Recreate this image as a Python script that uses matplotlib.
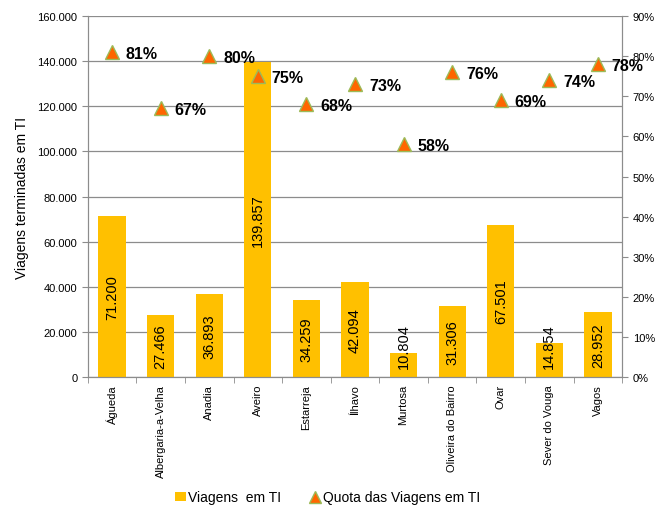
import numpy as np
import matplotlib
matplotlib.use("Agg")
import matplotlib.pyplot as plt
from matplotlib.lines import Line2D
from matplotlib.patches import Patch

plt.rcParams['font.family'] = ['Liberation Sans', 'DejaVu Sans']

# data
concelhos = ["Águeda", "Albergaria-a-Velha", "Anadia", "Aveiro", "Estarreja", "Ílhavo",
             "Murtosa", "Oliveira do Bairro", "Ovar", "Sever do Vouga", "Vagos"]
viagens = [71200, 27466, 36893, 139857, 34259, 42094, 10804, 31306, 67501, 14854, 28952]
quota = [81, 67, 80, 75, 68, 73, 58, 76, 69, 74, 78]

bar_color = '#FFC000'
tri_color = '#FF6600'
tri_edge = '#9BBB59'
grid_color = '#8C8C8C'

fig = plt.figure(figsize=(6.55, 5.06), dpi=100)
ax = fig.add_axes([0.134, 0.253, 0.816, 0.713])
x = np.arange(len(concelhos))

ax.bar(x, viagens, width=0.56, color=bar_color, zorder=2)
ax.set_xlim(-0.5, len(concelhos) - 0.5)
ax.set_ylim(0, 160000)
ax.set_yticks(np.arange(0, 160001, 20000))
ax.set_yticklabels(["0" if v == 0 else f"{v:,}".replace(",", ".") for v in range(0, 160001, 20000)],
                   fontsize=8)
ax.yaxis.grid(True, color=grid_color, linewidth=0.9, zorder=0)
ax.set_axisbelow(True)

# category ticks at boundaries
ax.set_xticks(x)
ax.set_xticklabels(concelhos, rotation=90, fontsize=8)
ax.tick_params(axis='x', length=0, pad=5)
ax.set_xticks(np.arange(-0.5, len(concelhos)), minor=True)
ax.tick_params(axis='x', which='minor', length=4, color=grid_color)
ax.tick_params(axis='y', length=4, color=grid_color)
ax.set_ylabel("Viagens terminadas em TI", fontsize=10, labelpad=6)

for s in ['left', 'bottom', 'right']:
    ax.spines[s].set_color(grid_color)
ax.spines['top'].set_visible(False)

# bar value labels
for xi, v in zip(x, viagens):
    ypos = max(v / 2, 13800)
    ax.text(xi, ypos, f"{v:,}".replace(",", "."), rotation=90, ha='center', va='center',
            fontsize=10.5, zorder=3)

ax2 = ax.twinx()
ax2.set_ylim(0, 90)
ax2.set_yticks(np.arange(0, 91, 10))
ax2.set_yticklabels([f"{v}%" for v in range(0, 91, 10)], fontsize=8)
ax2.tick_params(axis='y', length=4, color=grid_color)
for s in ['left', 'bottom', 'right']:
    ax2.spines[s].set_color(grid_color)
ax2.spines['top'].set_visible(False)
ax2.plot(x, quota, linestyle='none', marker='^', markersize=10, color=tri_color,
         markeredgecolor=tri_edge, markeredgewidth=1.0, zorder=4)
for xi, q in zip(x, quota):
    ax2.annotate(f"{q}%", (xi, q), xytext=(10, -1), textcoords='offset points',
                 ha='left', va='center', fontsize=11.5, fontweight='bold')

handles = [Patch(facecolor=bar_color, edgecolor='none'),
           Line2D([], [], linestyle='none', marker='^', markersize=8, color=tri_color,
                  markeredgecolor=tri_edge)]
fig.legend(handles, ["Viagens  em TI", "Quota das Viagens em TI"], loc='center',
           bbox_to_anchor=(0.5, 0.015), ncol=2, frameon=False, fontsize=10,
           handlelength=0.8, handletextpad=0.2, columnspacing=2.0)

plt.savefig("out.png", dpi=100)
